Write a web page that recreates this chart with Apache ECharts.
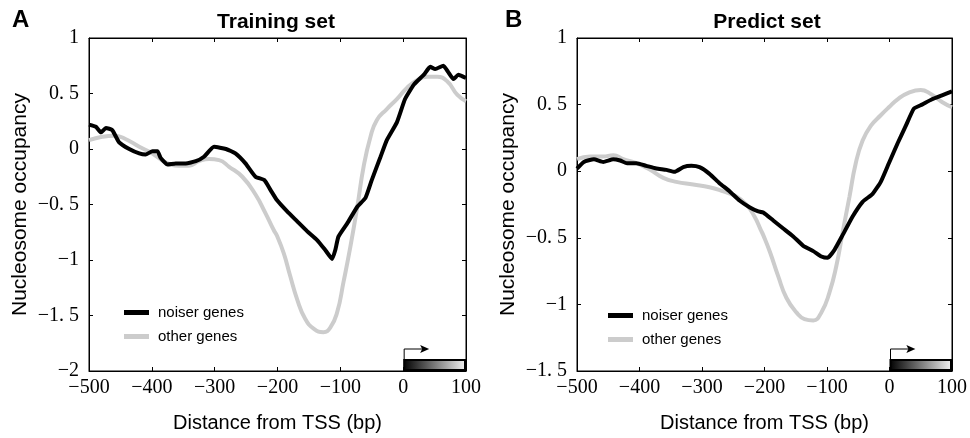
<!DOCTYPE html>
<html>
<head>
<meta charset="utf-8">
<script src="https://cdn.jsdelivr.net/npm/echarts@6/dist/echarts.min.js"></script>
<style>
html,body{margin:0;padding:0;background:#fff;}
#chart{width:970px;height:438px;}
</style>
</head>
<body>
<div id="chart"></div>
<script>
// ---- Data ----
const panelTitles = ['Training set', 'Predict set'];
const panelLetters = ['A', 'B'];
const seriesNames = ['noiser genes', 'other genes'];
const xTickLabels = ['\u2212500', '\u2212400', '\u2212300', '\u2212200', '\u2212100', '0', '100'];
const yTickLabelsA = ['\u22122', '\u22121. 5', '\u22121', '\u22120. 5', '0', '0. 5', '1'];
const yTickLabelsB = ['\u22121. 5', '\u22121', '\u22120. 5', '0', '0. 5', '1'];
const tssRegion = [0, 100];

// Panel A, noiser genes
const xA_noiser = [-500,-489,-481,-473,-463,-452,-436,-420,-410,-399,-391,-386,-375,-362,-346,-330,-317,-301,-282,-267,-251,-235,-221,-211,-201,-185,-169,-153,-137,-124,-113,-108,-103,-89,-73,-60,-50,-36,-26,-10,3,17,33,43,51,64,72,80,88,96,100];
const yA_noiser = [0.22,0.20,0.15,0.19,0.17,0.06,0.00,-0.04,-0.05,-0.02,-0.02,-0.08,-0.14,-0.13,-0.13,-0.11,-0.07,0.02,0.00,-0.04,-0.13,-0.25,-0.28,-0.37,-0.46,-0.56,-0.65,-0.74,-0.82,-0.91,-0.99,-0.91,-0.79,-0.67,-0.52,-0.44,-0.28,-0.07,0.08,0.24,0.45,0.58,0.67,0.74,0.72,0.75,0.69,0.63,0.67,0.65,0.64];
// Panel A, other genes
const xA_other = [-500,-479,-460,-442,-420,-399,-378,-357,-341,-325,-309,-293,-277,-256,-235,-219,-206,-201,-190,-180,-169,-156,-142,-127,-116,-105,-95,-84,-73,-63,-52,-42,-26,-10,6,22,38,54,70,86,100];
const yA_other = [0.08,0.11,0.12,0.09,0.02,-0.04,-0.12,-0.15,-0.15,-0.11,-0.09,-0.10,-0.16,-0.25,-0.41,-0.58,-0.73,-0.78,-0.94,-1.14,-1.35,-1.53,-1.62,-1.65,-1.61,-1.47,-1.20,-0.88,-0.52,-0.16,0.11,0.26,0.36,0.45,0.55,0.62,0.65,0.65,0.61,0.49,0.43];
// Panel B, noiser genes
const xB_noiser = [-500,-489,-473,-458,-442,-431,-420,-405,-389,-373,-357,-344,-330,-317,-304,-288,-272,-256,-240,-224,-211,-202,-186,-170,-154,-138,-122,-109,-99,-88,-75,-59,-43,-27,-14,-1,13,26,39,52,68,84,100];
const yB_noiser = [0.02,0.07,0.09,0.07,0.09,0.08,0.06,0.06,0.04,0.02,0.01,-0.005,0.03,0.04,0.03,-0.02,-0.09,-0.15,-0.22,-0.27,-0.30,-0.31,-0.37,-0.43,-0.49,-0.56,-0.60,-0.64,-0.65,-0.59,-0.48,-0.34,-0.23,-0.17,-0.08,0.06,0.21,0.34,0.47,0.50,0.54,0.57,0.60];
// Panel B, other genes
const xB_other = [-500,-479,-458,-442,-426,-405,-383,-362,-341,-314,-288,-267,-245,-229,-216,-206,-202,-191,-178,-165,-149,-136,-122,-109,-96,-85,-75,-64,-54,-43,-30,-14,-1,13,31,50,66,84,100];
const yB_other = [0.09,0.11,0.11,0.12,0.09,0.06,0.01,-0.05,-0.08,-0.10,-0.12,-0.15,-0.19,-0.25,-0.34,-0.44,-0.48,-0.61,-0.79,-0.95,-1.06,-1.11,-1.12,-1.06,-0.91,-0.71,-0.46,-0.19,0.06,0.23,0.34,0.42,0.48,0.54,0.59,0.61,0.58,0.52,0.48];

// ---- Chart ----
const zip = (xs, ys) => xs.map((x, i) => [x, ys[i]]);
const chart = echarts.init(document.getElementById('chart'), null, {renderer: 'canvas'});
const BLACK = '#000000', GRAY = '#cccccc';
const SANS = '"Liberation Sans", Arial, sans-serif';
const tickFont = {color: '#000', fontFamily: '"Liberation Serif", "DejaVu Serif", serif', fontSize: 20};

const grids = [
  {left: 89, top: 38, width: 377, height: 336, show: true, borderColor: '#000', borderWidth: 1, backgroundColor: '#fff'},
  {left: 577, top: 38, width: 377, height: 336, show: true, borderColor: '#000', borderWidth: 1, backgroundColor: '#fff'}
];
const yRanges = [{min: -2, max: 1, labels: yTickLabelsA}, {min: -1.5, max: 1, labels: yTickLabelsB}];

const xAxes = [], yAxes = [];
[0, 1].forEach(g => {
  xAxes.push({
    type: 'value', gridIndex: g, min: -500, max: 100, interval: 100, position: 'bottom',
    axisLine: {show: true, onZero: false, lineStyle: {color: '#000', width: 1}},
    axisTick: {show: true, inside: true, length: 4, lineStyle: {color: '#000'}},
    splitLine: {show: false},
    axisLabel: Object.assign({margin: 7, formatter: v => xTickLabels[Math.round((v + 500) / 100)]}, tickFont),
    name: 'Distance from TSS (bp)', nameLocation: 'middle', nameGap: 42,
    nameTextStyle: {color: '#000', fontFamily: SANS, fontSize: 20}
  });
  xAxes.push({
    type: 'value', gridIndex: g, min: -500, max: 100, interval: 100, position: 'top',
    axisLine: {show: true, onZero: false, lineStyle: {color: '#000', width: 1}},
    axisTick: {show: true, inside: true, length: 4, lineStyle: {color: '#000'}},
    splitLine: {show: false}, axisLabel: {show: false}
  });
  const yr = yRanges[g];
  yAxes.push({
    type: 'value', gridIndex: g, min: yr.min, max: yr.max, interval: 0.5, position: 'left',
    axisLine: {show: true, onZero: false, lineStyle: {color: '#000', width: 1}},
    axisTick: {show: true, inside: true, length: 4, lineStyle: {color: '#000'}},
    splitLine: {show: false},
    axisLabel: Object.assign({margin: 10, formatter: v => yr.labels[Math.round((v - yr.min) / 0.5)]}, tickFont),
    name: 'Nucleosome occupancy', nameLocation: 'middle', nameGap: 58, nameRotate: 90,
    nameTextStyle: {color: '#000', fontFamily: SANS, fontSize: 21}
  });
  yAxes.push({
    type: 'value', gridIndex: g, min: yr.min, max: yr.max, interval: 0.5, position: 'right',
    axisLine: {show: true, onZero: false, lineStyle: {color: '#000', width: 1}},
    axisTick: {show: true, inside: true, length: 4, lineStyle: {color: '#000'}},
    splitLine: {show: false}, axisLabel: {show: false}
  });
});

function lineSeries(name, data, color, g, z) {
  return {
    type: 'line', name: name, data: data, xAxisIndex: g * 2, yAxisIndex: g * 2,
    showSymbol: false, symbol: 'none', smooth: color === GRAY ? 0.5 : 0.15, z: z,
    color: color, lineStyle: {color: color, width: 4}, animation: false
  };
}

function tssSeries(g) {
  return {
    type: 'custom', xAxisIndex: g * 2, yAxisIndex: g * 2, z: 10, silent: true, animation: false,
    data: [[tssRegion[0], tssRegion[1]]],
    renderItem: function (params, api) {
      const yMin = yRanges[g].min;
      const p0 = api.coord([api.value(0), yMin]);
      const p1 = api.coord([api.value(1), yMin]);
      const pa = api.coord([35, yMin]);
      const h = 12;
      const top = p0[1] - h;
      const ay = top - 10;
      return {
        type: 'group',
        children: [
          {type: 'rect', shape: {x: p0[0] + 1, y: top + 1, width: p1[0] - p0[0] - 2, height: h - 2},
           style: {fill: new echarts.graphic.LinearGradient(0, 0, 1, 0, [
             {offset: 0, color: '#000'}, {offset: 1, color: '#f2f2f2'}]),
             stroke: '#000', lineWidth: 2}},
          {type: 'polyline', shape: {points: [[p0[0] + 1, top], [p0[0] + 1, ay], [pa[0], ay]]},
           style: {stroke: '#000', lineWidth: 1, fill: null}},
          {type: 'polygon', shape: {points: [[pa[0] + 4, ay], [pa[0] - 5, ay - 4], [pa[0] - 3, ay], [pa[0] - 5, ay + 4]]},
           style: {fill: '#000'}}
        ]
      };
    }
  };
}

const series = [
  lineSeries(seriesNames[1], zip(xA_other, yA_other), GRAY, 0, 2),
  lineSeries(seriesNames[0], zip(xA_noiser, yA_noiser), BLACK, 0, 3),
  lineSeries(seriesNames[1], zip(xB_other, yB_other), GRAY, 1, 2),
  lineSeries(seriesNames[0], zip(xB_noiser, yB_noiser), BLACK, 1, 3),
  tssSeries(0), tssSeries(1)
];

const legendCommon = {
  orient: 'vertical', itemWidth: 25, itemHeight: 5, itemGap: 9, icon: 'rect',
  data: seriesNames, selectedMode: false,
  textStyle: {color: '#000', fontFamily: SANS, fontSize: 15, padding: [0, 0, 0, 4]}
};

const titleFont = {color: '#000', fontFamily: SANS, fontSize: 21, fontWeight: 900};
const letterFont = {color: '#000', fontFamily: SANS, fontSize: 24, fontWeight: 'bold'};

chart.setOption({
  backgroundColor: '#fff',
  animation: false,
  title: [
    {text: panelTitles[0], left: 271, top: 7, textAlign: 'center', textStyle: titleFont},
    {text: panelTitles[1], left: 762, top: 7, textAlign: 'center', textStyle: titleFont},
    {text: panelLetters[0], left: 7, top: 3, textStyle: letterFont},
    {text: panelLetters[1], left: 500, top: 3, textStyle: letterFont}
  ],
  legend: [
    Object.assign({left: 119, top: 300}, legendCommon),
    Object.assign({left: 603, top: 303}, legendCommon)
  ],
  grid: grids,
  xAxis: xAxes,
  yAxis: yAxes,
  series: series
});
</script>
</body>
</html>
